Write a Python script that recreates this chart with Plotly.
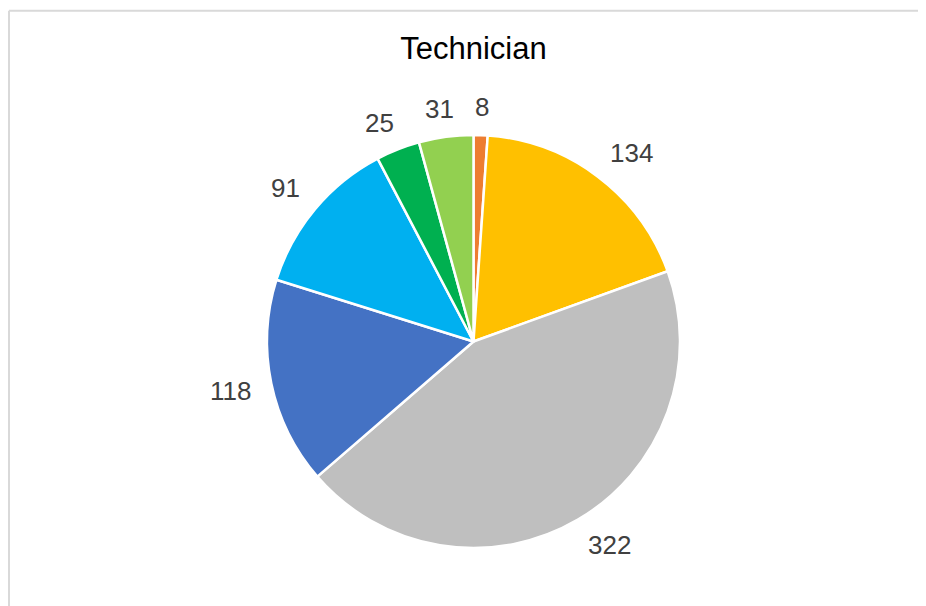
import math
import plotly.graph_objects as go

# slices in clockwise order from 12 o'clock
labels = ["A", "B", "C", "D", "E", "F", "G"]
values = [8, 134, 322, 118, 91, 25, 31]
colors = ["#ED7D31", "#FFC000", "#BFBFBF", "#4472C4", "#00B0F0", "#00B050", "#92D050"]

# page body keeps its 8px margin, so the figure is sized to the rest of the window
W, H = 918, 598
cx, cy, r = 465.5, 333.5, 206.5
LABEL_SIZE = 26


def clamp(t):
    return max(-1.0, min(1.0, t))


fig = go.Figure(go.Pie(
    labels=labels,
    values=values,
    sort=False,
    direction="clockwise",
    rotation=0,
    marker=dict(colors=colors, line=dict(color="white", width=2.5)),
    textinfo="none",
    showlegend=False,
    hoverinfo="label+value",
    domain=dict(x=[(cx - r) / W, (cx + r) / W], y=[(H - cy - r) / H, (H - cy + r) / H]),
))

# Excel-style "outside end" data labels at each slice's mid angle
total = sum(values)
annotations = []
cum = 0
for v in values:
    theta = math.radians((cum + v / 2) / total * 360)
    cum += v
    hw = len(str(v)) * 0.556 * LABEL_SIZE / 2
    hh = 8
    d = r + 20
    px = cx + d * math.sin(theta) + hw * clamp(2 * math.sin(theta))
    py = cy - d * math.cos(theta) - hh * clamp(2 * math.cos(theta))
    annotations.append(dict(
        x=px / W, y=(H - py) / H, xref="paper", yref="paper",
        text=str(v), showarrow=False, xanchor="center", yanchor="middle",
        font=dict(size=LABEL_SIZE, color="#404040"),
    ))

# chart-area border: only the top and left edges fall inside the window
border = dict(color="#D9D9D9", width=2)
fig.update_layout(
    width=W,
    height=H,
    margin=dict(l=0, r=0, t=0, b=0),
    paper_bgcolor="white",
    font=dict(family="Liberation Sans, Arial", color="#404040"),
    title=dict(text="Technician", x=cx / W, xanchor="center", y=1 - 40 / H, yanchor="middle",
               yref="container", font=dict(size=31, color="#000000")),
    annotations=annotations,
    shapes=[
        dict(type="line", xref="paper", yref="paper", x0=1 / W, x1=1, y0=1 - 2.8 / H, y1=1 - 2.8 / H,
             line=border, layer="below"),
        dict(type="line", xref="paper", yref="paper", x0=1 / W, x1=1 / W, y0=0, y1=1 - 2.8 / H,
             line=border, layer="below"),
    ],
)

fig.write_html("out.html")
